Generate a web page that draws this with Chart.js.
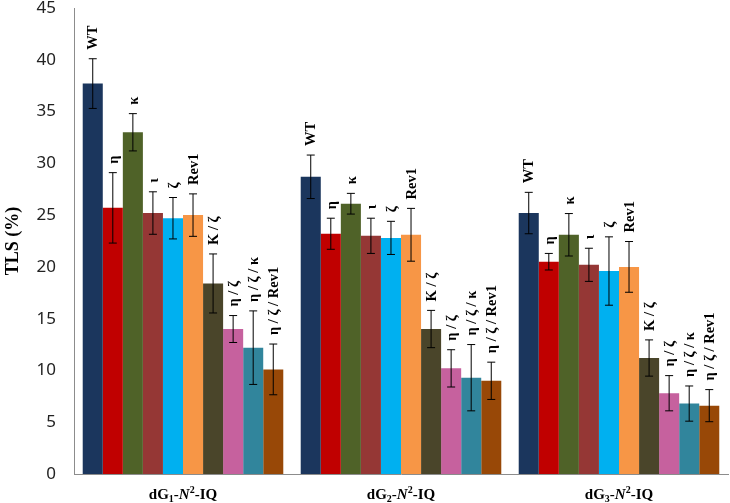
<!DOCTYPE html>
<html>
<head>
<meta charset="utf-8">
<script src="https://cdn.jsdelivr.net/npm/chart.js@4"></script>
<style>
  body { margin: 0; background: #fff; }
  #wrap { width: 730px; height: 503px; }
</style>
</head>
<body>
<div id="wrap"><canvas id="tlsChart"></canvas></div>
<script>
// groups on the x axis (drawn with subscript / italic / superscript)
const grupos = ['dG1-N2-IQ', 'dG2-N2-IQ', 'dG3-N2-IQ'];

// polymerase combinations
const series = ['WT', 'η', 'κ', 'ι', 'ζ', 'Rev1', 'K / ζ', 'η / ζ', 'η / ζ / κ', 'η / ζ / Rev1'];
const cores = ['#1B365D', '#C00000', '#4F6228', '#953735', '#00B0F0', '#F79646', '#4A452A', '#C6619E', '#31859C', '#984807'];

// TLS (%) values per series, one per group
const valores = [
  [37.7, 28.7, 25.2],
  [25.7, 23.2, 20.5],
  [33.0, 26.1, 23.1],
  [25.2, 23.0, 20.2],
  [24.7, 22.8, 19.6],
  [25.0, 23.1, 20.0],
  [18.4, 14.0, 11.2],
  [14.0, 10.2, 7.8],
  [12.2, 9.3, 6.8],
  [10.1, 9.0, 6.6]
];

// error (+/-) per series
const erros = [
  [2.4, 2.1, 2.0],
  [3.4, 1.5, 0.8],
  [1.8, 1.0, 2.05],
  [2.05, 1.7, 1.6],
  [2.0, 1.6, 3.3],
  [2.05, 2.55, 2.45],
  [2.85, 1.8, 1.75],
  [1.3, 1.8, 1.7],
  [3.55, 3.2, 1.7],
  [2.45, 1.8, 1.55]
];

const yTicks = [0, 5, 10, 15, 20, 25, 30, 35, 40, 45];

// error bars + rotated labels above them
const barrasErro = {
  id: 'barrasErro',
  afterDatasetsDraw(chart) {
    const ctx = chart.ctx;
    const y = chart.scales.y;
    ctx.save();
    chart.data.datasets.forEach((ds, i) => {
      const meta = chart.getDatasetMeta(i);
      meta.data.forEach((bar, j) => {
        const v = ds.data[j];
        const e = erros[i][j];
        const yTop = y.getPixelForValue(v + e);
        const yBot = y.getPixelForValue(v - e);
        ctx.strokeStyle = '#000';
        ctx.lineWidth = 1;
        ctx.beginPath();
        ctx.moveTo(bar.x, yTop); ctx.lineTo(bar.x, yBot);
        ctx.moveTo(bar.x - 4, yTop); ctx.lineTo(bar.x + 4, yTop);
        ctx.moveTo(bar.x - 4, yBot); ctx.lineTo(bar.x + 4, yBot);
        ctx.stroke();

        ctx.save();
        ctx.translate(bar.x + 1, yTop - 9);
        ctx.rotate(-Math.PI / 2);
        ctx.fillStyle = '#000';
        ctx.font = 'bold 14.5px "Liberation Serif", serif';
        ctx.textAlign = 'left';
        ctx.textBaseline = 'middle';
        ctx.fillText(series[i], 0, 0);
        ctx.restore();
      });
    });
    ctx.restore();
  }
};

// x labels: dG<sub>n</sub>-<i>N</i><sup>2</sup>-IQ
const rotulosX = {
  id: 'rotulosX',
  afterDraw(chart) {
    const ctx = chart.ctx;
    const x = chart.scales.x;
    const base = 499;
    ctx.save();
    ctx.fillStyle = '#000';
    ctx.textBaseline = 'alphabetic';
    grupos.forEach((g, j) => {
      const m = g.match(/^dG(\d)-N(\d)-IQ$/);
      const partes = [
        { t: 'dG', f: 'bold 15px "Liberation Serif", serif', dy: 0 },
        { t: m[1], f: 'bold 10px "Liberation Serif", serif', dy: 3 },
        { t: '-', f: 'bold 15px "Liberation Serif", serif', dy: 0 },
        { t: 'N', f: 'italic bold 15px "Liberation Serif", serif', dy: 0 },
        { t: m[2], f: 'bold 10px "Liberation Serif", serif', dy: -6 },
        { t: '-IQ', f: 'bold 15px "Liberation Serif", serif', dy: 0 }
      ];
      let total = 0;
      partes.forEach(p => { ctx.font = p.f; p.w = ctx.measureText(p.t).width; total += p.w; });
      let cx = x.getPixelForValue(j) - total / 2;
      partes.forEach(p => {
        ctx.font = p.f;
        ctx.fillText(p.t, cx, base + p.dy);
        cx += p.w;
      });
    });
    ctx.restore();
  }
};

function montarGrafico() {
  const ctx = document.getElementById('tlsChart').getContext('2d');
  new Chart(ctx, {
    type: 'bar',
    data: {
      labels: grupos,
      datasets: series.map((s, i) => ({
        label: s,
        data: valores[i],
        backgroundColor: cores[i],
        borderWidth: 0,
        barPercentage: 1.0,
        categoryPercentage: 0.92
      }))
    },
    options: {
      responsive: true,
      maintainAspectRatio: false,
      animation: false,
      layout: { padding: { top: 8, right: 2, left: 0, bottom: 0 } },
      plugins: {
        legend: { display: false },
        tooltip: { enabled: false }
      },
      scales: {
        x: {
          grid: { display: false },
          border: { display: true, color: '#8c8c8c' },
          ticks: { display: false },
          afterFit(scale) { scale.height = 29; }
        },
        y: {
          min: 0,
          max: 45,
          afterBuildTicks(scale) { scale.ticks = yTicks.map(v => ({ value: v })); },
          grid: { display: false, drawTicks: false },
          border: { display: true, color: '#8c8c8c' },
          ticks: {
            padding: 18,
            color: '#222',
            font: { family: '"Noto Sans", sans-serif', size: 17 }
          },
          title: {
            display: true,
            text: 'TLS (%)',
            color: '#000',
            padding: 3,
            font: { family: '"Liberation Serif", serif', size: 18, weight: 'bold' }
          },
          afterFit(scale) {
            scale.width = 74;
            scale.paddingTop = 0;
            scale.paddingBottom = 0;
          }
        }
      }
    },
    plugins: [barrasErro, rotulosX]
  });
}

montarGrafico();
</script>
</body>
</html>
